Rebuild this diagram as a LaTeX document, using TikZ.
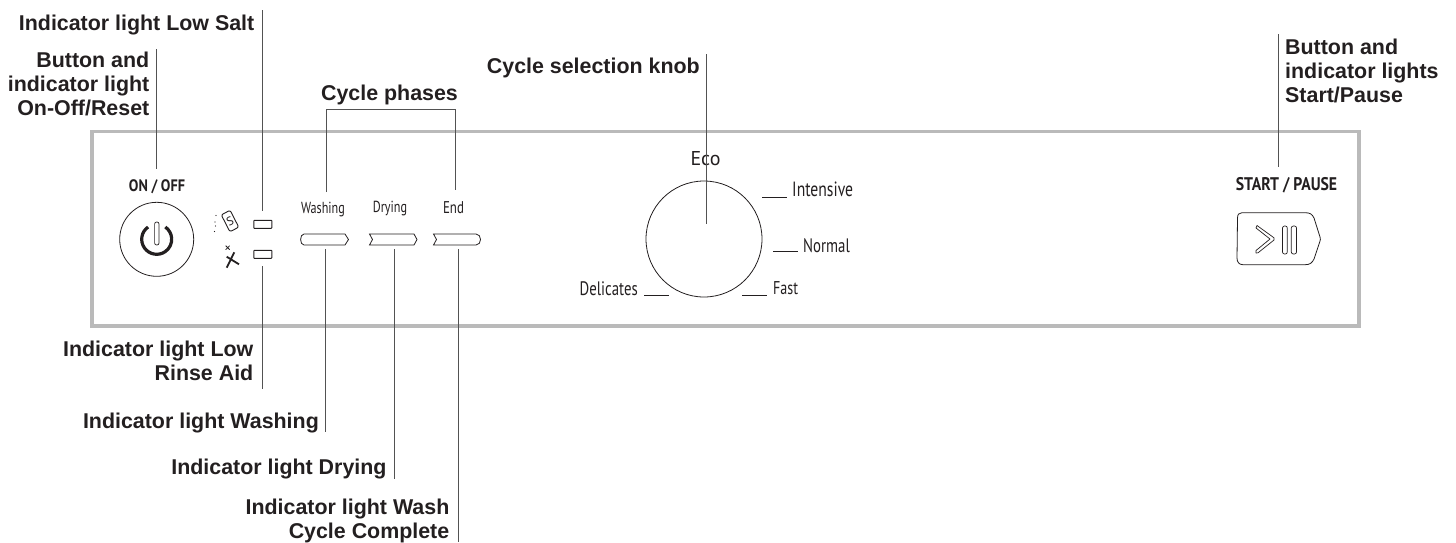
\documentclass[tikz,border=0pt]{standalone}
\usepackage{fontspec}
\setmainfont{Liberation Sans}
\newfontfamily\panelfont[FakeStretch=0.76]{PT Sans}
\newfontfamily\panelwide{PT Sans}
\newfontfamily\panelbold[FakeStretch=0.86]{PT Sans Bold}
\definecolor{ink}{HTML}{231F20}
\tikzset{
  x=1pt,y=-1pt,
  lab/.style={font=\fontsize{21.4}{24}\selectfont\bfseries,inner sep=0,text=ink,align=right},
  ptxt/.style={font=\fontsize{18.5}{20}\selectfont\panelfont,inner sep=0,text=ink},
  small/.style={font=\fontsize{16}{20}\selectfont\panelfont,inner sep=0,text=ink},
  pbold/.style={inner sep=0,text=ink},
  lead/.style={draw=black!68,line width=1pt},
  panel/.style={draw=black!27,line width=3.5pt},
  thin/.style={draw=ink,line width=0.8pt},
  tick/.style={draw=ink,line width=1pt},
}
\begin{document}
\begin{tikzpicture}
\useasboundingbox (0,0) rectangle (1456,542);
\draw[panel] (92,131.5) rectangle (1359,326);
% labels
\node[lab,anchor=base east] (lsalt) at (254.5,30.7) {Indicator light Low Salt};
\node[lab,anchor=base east] (onoff) at (149.5,115) {Button and\\indicator light\\On-Off/Reset};
\node[lab,anchor=base] (phases) at (389.5,100.7) {Cycle phases};
\node[lab,anchor=base east] (knoblab) at (700,73.3) {Cycle selection knob};
\node[lab,anchor=base west,align=left] (startlab) at (1285,102.7) {Button and\\indicator lights\\Start/Pause};
\node[lab,anchor=base east] (lrinse) at (253.5,380.7) {Indicator light Low\\Rinse Aid};
\node[lab,anchor=base east] (lwash) at (319,428.7) {Indicator light Washing};
\node[lab,anchor=base east] (ldry) at (386.7,474) {Indicator light Drying};
\node[lab,anchor=base east] (lend) at (449.5,538) {Indicator light Wash\\Cycle Complete};
% panel text
\node[pbold,font=\fontsize{16.6}{20}\selectfont\panelbold] (ontxt) at (157,186.5) {ON / OFF};
\node[pbold,font=\fontsize{18.3}{20}\selectfont\panelbold] (starttxt) at (1286.5,185.5) {START / PAUSE};
\node[small] (wtxt) at (323,209.5) {Washing};
\node[small] (dtxt) at (390,209) {Drying};
\node[small,font=\fontsize{17}{20}\selectfont\panelfont] (etxt) at (453.5,208) {End};
\node[ptxt,font=\fontsize{20}{20}\selectfont\panelwide] (eco) at (705.5,159) {Eco};
\node[ptxt,anchor=west,font=\fontsize{20.6}{20}\selectfont\panelfont] (inten) at (792,189.5) {Intensive};
\node[ptxt,anchor=west,font=\fontsize{19.5}{20}\selectfont\panelfont] (norm) at (803,245.5) {Normal};
\node[ptxt,anchor=west] (fast) at (773,288.5) {Fast};
\node[ptxt,anchor=east,font=\fontsize{19.5}{20}\selectfont\panelfont] (deli) at (638,288.5) {Delicates};
% knob and button
\node[thin,circle,minimum size=116pt,inner sep=0] (knob) at (704,239) {};
\node[thin,circle,minimum size=74pt,inner sep=0] (onbtn) at (156.7,239.3) {};
% ticks
\draw[tick] (762,197) -- (787,197);
\draw[tick] (773,251) -- (798,251);
\draw[tick] (742,295) -- (767,295);
\draw[tick] (644,295) -- (669,295);
% power icon
\draw[line width=3.2pt,ink] (148.1,227) arc[start angle=-125,end angle=-415,radius=15];
\draw[line width=0.7pt,ink,rounded corners=2pt] (154.6,222) rectangle (159,245);
% lights
\node[thin,draw,minimum width=18pt,minimum height=8pt,inner sep=0,line width=0.9pt,rounded corners=0.6pt] (lt1) at (262.8,224.3) {};
\node[thin,draw,minimum width=18pt,minimum height=8pt,inner sep=0,line width=0.9pt,rounded corners=0.6pt] (lt2) at (262.8,254.3) {};
% salt icon
\draw[line width=0.9pt,ink,rounded corners=2pt,rotate around={27:(230,221)}] (225,211.5) rectangle (235,230.5);
\node[font=\fontsize{12}{12}\selectfont\panelwide,rotate=27,inner sep=0,text=ink] (stxt) at (230,221) {S};
\fill[ink] (216,215.5) circle (.7) (215,222) circle (.7) (215.5,226) circle (.7) (214.5,231.5) circle (.7);
% rinse icon
\draw[line width=1.8pt,ink] (226.7,256.7) -- (239,264.3) (234.3,252.3) -- (226.7,267.7);
\draw[line width=0.8pt,ink] (225.7,245.7) -- (229.7,249.7) (229.7,245.7) -- (225.7,249.7);
% bars
\draw[thin] (304,234) -- (345,234) -- (348.5,239.5) -- (345,245) -- (304,245) .. controls (299.5,245) and (299.5,234) .. (304,234) -- cycle;
\draw[thin] (369.5,234) -- (414,234) -- (417,239.5) -- (414,245) -- (369.5,245) -- (372.5,239.5) -- cycle;
\draw[thin] (433.5,234) -- (476,234) .. controls (482,234) and (482,245) .. (476,245) -- (433.5,245) -- (436.5,239.5) -- cycle;
% start button
\draw[thin] (1242,212.7) -- (1305,212.7) .. controls (1310,212.7) and (1312,214) .. (1314,218) -- (1320,237) .. controls (1320.5,239) and (1320.5,240) .. (1320,241) -- (1314,259) .. controls (1312,263) and (1310,264.7) .. (1305,264.7) -- (1243,264.7) .. controls (1239,264.7) and (1237,262) .. (1237,258) -- (1237.5,218) .. controls (1237.5,214.5) and (1239,212.7) .. (1242,212.7) -- cycle;
\draw[line width=0.7pt,ink,line join=round] (1257,225.5) -- (1274,237.8) -- (1274,240) -- (1258,252.8) -- (1256,253) -- (1256,250.5) -- (1270,239) -- (1256,228) -- cycle;
\draw[line width=0.7pt,ink,rounded corners=2pt] (1282.5,226) rectangle (1287.3,254);
\draw[line width=0.7pt,ink,rounded corners=2pt] (1291.3,226) rectangle (1296.5,254);
% leaders
\coordinate (a1) at (156.7,49); \coordinate (a2) at (156.7,169);
\coordinate (b1) at (262,10); \coordinate (b2) at (262,211);
\coordinate (c1) at (326,192); \coordinate (c2) at (326,109.5); \coordinate (c3) at (455,109.5); \coordinate (c4) at (455,190);
\coordinate (d1) at (706.7,54.3); \coordinate (d2) at (706.7,224);
\coordinate (e1) at (1278.3,34.3); \coordinate (e2) at (1278.3,167.3);
\coordinate (f1) at (262,266); \coordinate (f2) at (262,389);
\coordinate (g1) at (325.7,249); \coordinate (g2) at (325.7,432);
\coordinate (h1) at (394,249); \coordinate (h2) at (394,479);
\coordinate (i1) at (458,249); \coordinate (i2) at (458,542);
\draw[lead] (a1) -- (a2);
\draw[lead] (b1) -- (b2);
\draw[lead] (c1) -- (c2) -- (c3) -- (c4);
\draw[lead] (d1) -- (d2);
\draw[lead] (e1) -- (e2);
\draw[lead] (f1) -- (f2);
\draw[lead] (g1) -- (g2);
\draw[lead] (h1) -- (h2);
\draw[lead] (i1) -- (i2);
\end{tikzpicture}
\end{document}
